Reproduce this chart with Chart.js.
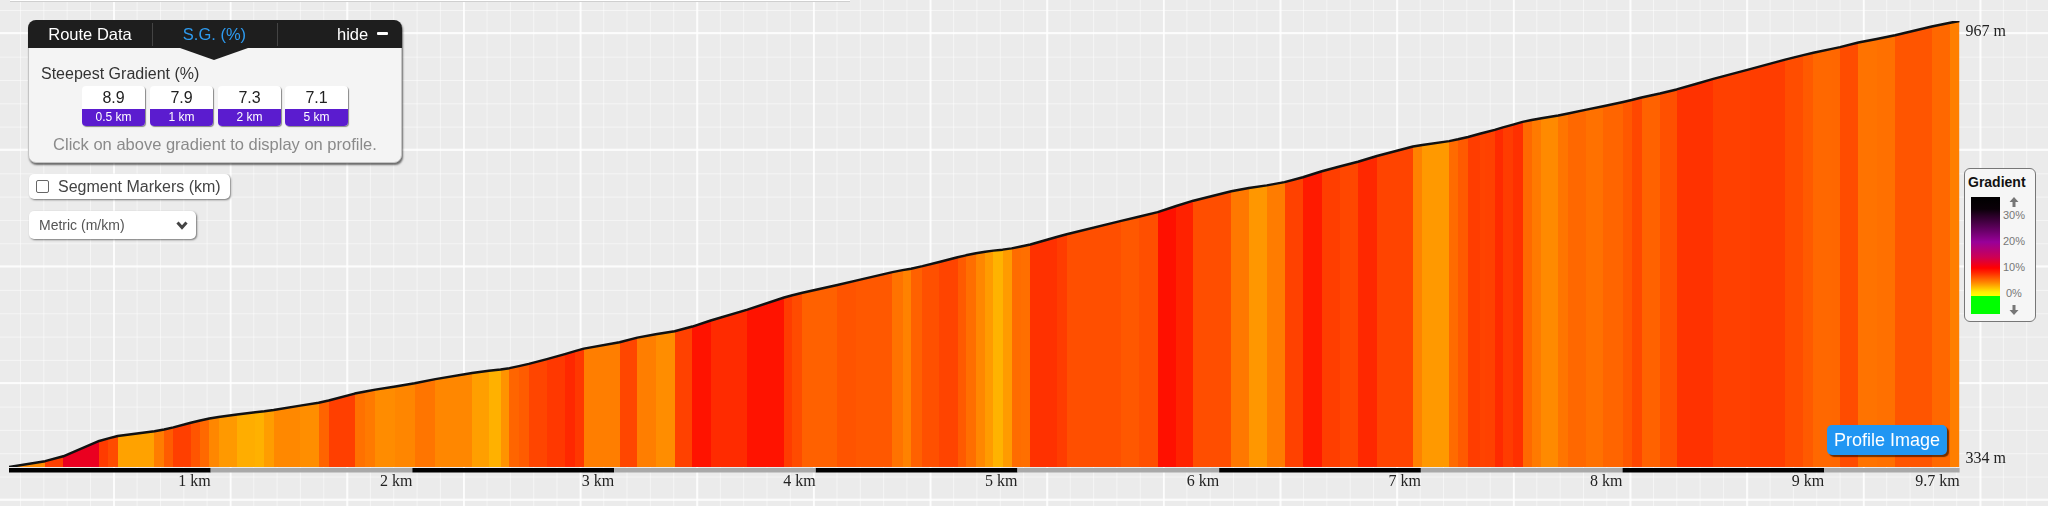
<!DOCTYPE html>
<html lang="en">
<head>
<meta charset="UTF-8">
<title>Climb profile</title>
<script src="https://cdn.jsdelivr.net/npm/chart.js"></script>
<style>
    body {
        margin: 0; width: 2048px; height: 506px; overflow: hidden; position: relative;
        font-family: "Liberation Sans", Arial, sans-serif;
        background-color: #ebebeb;
        background-image:
            linear-gradient(90deg, rgba(255,255,255,.8) 2px, transparent 2px),
            linear-gradient(180deg, rgba(255,255,255,.8) 2px, transparent 2px),
            linear-gradient(90deg, rgba(255,255,255,.5) 1px, transparent 1px),
            linear-gradient(180deg, rgba(255,255,255,.5) 1px, transparent 1px);
        background-size: 116.667px 116.667px, 116.667px 116.667px, 23.333px 23.333px, 23.333px 23.333px;
        background-position: 113px 0, 0 32px, 20px 0, 0 10px;
    }
    #profile { position: absolute; left: 0; top: 0; }
    .abs { position: absolute; }
    .panel { left: 28px; top: 20px; width: 372px; height: 141px; background: #f4f4f4; border: 1px solid #c4c4c4;
             border-radius: 8px; box-shadow: 1px 2px 2px rgba(0,0,0,.55); }
    .head { left: -1px; top: -1px; width: 374px; height: 28px; background: #1e1e1e; border-radius: 8px 8px 0 0; color: #fff; font-size: 16.5px; }
    .tab { position: absolute; top: 0; line-height: 29px; text-align: center; }
    .sep { position: absolute; top: 3px; width: 1px; height: 23px; background: #444; }
    .pointer { left: 151px; top: 27px; width: 0; height: 0; border-left: 34px solid transparent; border-right: 34px solid transparent; border-top: 12px solid #1e1e1e; }
    .btn { top: 65px; width: 63px; height: 40px; border-radius: 4px; background: #fff; box-shadow: 1px 1px 1px rgba(0,0,0,.45); overflow: hidden; text-align: center; }
    .btn .v { height: 23px; line-height: 24px; font-size: 16px; color: #222; }
    .btn .k { height: 17px; line-height: 17px; font-size: 12px; color: #fff; background: #5b1ccf; }
    .box { background: #fff; border-radius: 5px; box-shadow: 1px 1px 2px rgba(0,0,0,.5); }
</style>
</head>
<body>
    <div class="abs" style="left:10px; top:-3px; width:840px; height:4px; background:#fff; border-bottom:1px solid #cfcfcf;"></div>

    <canvas id="profile" width="2048" height="506"></canvas>

    <div class="abs panel">
        <div class="abs head">
            <div class="tab" style="left:0; width:124px;">Route Data</div>
            <div class="sep" style="left:124px;"></div>
            <div class="tab" style="left:124px; width:125px; color:#2e9bf0;">S.G. (%)</div>
            <div class="sep" style="left:249px;"></div>
            <div class="tab" style="left:309px;">hide</div>
            <div class="abs" style="left:349px; top:12px; width:11px; height:3px; background:#fff; border-radius:1px;"></div>
        </div>
        <div class="abs pointer"></div>
        <div class="abs" style="left:12px; top:44px; font-size:16px; color:#333;">Steepest Gradient (%)</div>
        <div class="abs btn" style="left:53px;"><div class="v">8.9</div><div class="k">0.5 km</div></div>
        <div class="abs btn" style="left:121px;"><div class="v">7.9</div><div class="k">1 km</div></div>
        <div class="abs btn" style="left:189px;"><div class="v">7.3</div><div class="k">2 km</div></div>
        <div class="abs btn" style="left:256px;"><div class="v">7.1</div><div class="k">5 km</div></div>
        <div class="abs" style="left:0; width:372px; top:114px; text-align:center; font-size:16.5px; color:#8a8a8a;">Click on above gradient to display on profile.</div>
    </div>

    <div class="abs box" style="left:29px; top:174px; width:201px; height:25px;">
        <div class="abs" style="left:7px; top:6px; width:11px; height:11px; border:1px solid #666; border-radius:2px; background:#fff;"></div>
        <div class="abs" style="left:29px; top:4px; font-size:16px; color:#444;">Segment Markers (km)</div>
    </div>

    <div class="abs box" style="left:29px; top:211px; width:167px; height:28px;">
        <div class="abs" style="left:10px; top:6px; font-size:14px; color:#555;">Metric (m/km)</div>
        <svg class="abs" style="left:147px; top:10px;" width="12" height="9"><polyline points="1.5,1.5 6,6.5 10.5,1.5" fill="none" stroke="#444" stroke-width="3"/></svg>
    </div>

    <div class="abs" style="left:1964px; top:168px; width:70px; height:152px; background:#f6f6f6; border:1px solid #777; border-radius:6px;">
        <div class="abs" style="left:3px; top:5px; font-size:14px; font-weight:bold; color:#111;">Gradient</div>
        <div class="abs" style="left:6px; top:28px; width:29px; height:117px;
             background: linear-gradient(180deg, #000 0px, #0a0008 12px, #2a0028 19px, #990099 45px, #cc0055 60px, #ff0000 71px, #ff2a00 76px, #ff8c00 86px, #ffee00 95px, #ffff00 99px, #00ff00 99px, #00ff00 117px);"></div>
        <svg class="abs" style="left:44px; top:28px;" width="10" height="10"><path d="M5 0 L9.5 5 L6.5 5 L6.5 10 L3.5 10 L3.5 5 L0.5 5 Z" fill="#777"/></svg>
        <div class="abs" style="left:38px; top:40px; font-size:11px; color:#777;">30%</div>
        <div class="abs" style="left:38px; top:66px; font-size:11px; color:#777;">20%</div>
        <div class="abs" style="left:38px; top:92px; font-size:11px; color:#777;">10%</div>
        <div class="abs" style="left:41px; top:118px; font-size:11px; color:#777;">0%</div>
        <svg class="abs" style="left:44px; top:136px;" width="10" height="10"><path d="M5 10 L9.5 5 L6.5 5 L6.5 0 L3.5 0 L3.5 5 L0.5 5 Z" fill="#777"/></svg>
    </div>

    <div class="abs" style="left:1827px; top:425px; width:120px; height:30px; background:#2196f3; border-radius:5px; box-shadow:2px 2px 1px rgba(0,0,0,.55); color:#fff; font-size:18px; line-height:30px; text-align:center;">Profile Image</div>

    <script>
        // distance along the climb (km) and elevation (m) at each gradient change
        var distKm = [0, 0.179, 0.269, 0.447, 0.493, 0.539, 0.721, 0.769, 0.815, 0.901,
            0.948, 0.993, 1.039, 1.130, 1.221, 1.266, 1.312, 1.444, 1.535, 1.585,
            1.714, 1.767, 1.816, 1.916, 2.011, 2.114, 2.296, 2.379, 2.437, 2.481,
            2.528, 2.577, 2.667, 2.756, 2.806, 2.850, 3.027, 3.115, 3.206, 3.300,
            3.388, 3.479, 3.661, 3.843, 3.884, 3.934, 4.107, 4.199, 4.380, 4.430,
            4.472, 4.529, 4.612, 4.703, 4.744, 4.794, 4.840, 4.880, 4.926, 4.971,
            5.017, 5.064, 5.194, 5.244, 5.514, 5.601, 5.695, 5.787, 5.872, 6.060,
            6.147, 6.236, 6.324, 6.415, 6.509, 6.597, 6.688, 6.782, 6.961, 7.007,
            7.140, 7.184, 7.234, 7.292, 7.316, 7.366, 7.407, 7.457, 7.504, 7.549,
            7.598, 7.681, 7.730, 7.821, 7.904, 8.003, 8.045, 8.094, 8.185, 8.268,
            8.367, 8.450, 8.632, 8.806, 8.896, 8.946, 9.037, 9.078, 9.169, 9.260,
            9.351, 9.533, 9.624, 9.671];

        var elevM = [334.0, 342.3, 349.2, 371.0, 374.6, 377.9, 384.7, 387.2, 390.2, 396.8,
            400.0, 402.7, 404.9, 408.6, 411.6, 413.0, 414.8, 421.1, 425.2, 428.3,
            438.2, 441.2, 443.8, 448.4, 453.0, 458.7, 467.4, 470.6, 472.4, 474.3,
            477.2, 480.4, 487.1, 494.2, 498.5, 502.0, 511.1, 517.6, 522.3, 526.6,
            533.3, 541.9, 557.3, 574.5, 577.7, 581.3, 592.2, 598.5, 610.6, 613.4,
            615.5, 619.1, 624.9, 631.7, 634.4, 637.3, 639.5, 641.1, 642.5, 644.3,
            647.0, 649.7, 660.4, 664.3, 683.3, 689.1, 695.7, 704.5, 712.0, 725.3,
            730.0, 733.7, 738.3, 745.2, 753.8, 760.6, 767.3, 775.4, 788.8, 791.1,
            796.5, 799.1, 802.4, 806.9, 808.7, 812.5, 816.0, 819.9, 823.8, 826.5,
            829.1, 833.0, 835.7, 841.2, 845.9, 852.0, 854.8, 858.4, 864.1, 869.9,
            878.0, 884.8, 898.7, 912.2, 918.6, 921.9, 927.4, 929.9, 936.4, 941.5,
            946.7, 959.1, 964.6, 967.0];

        var kmTickValues = [1, 2, 3, 4, 5, 6, 7, 8, 9, 9.671];
        var kmTickLabels = ['1 km', '2 km', '3 km', '4 km', '5 km', '6 km', '7 km', '8 km', '9 km', '9.7 km'];

        var totalKm = distKm[distKm.length - 1];
        var minElev = Math.min.apply(null, elevM);
        var maxElev = Math.max.apply(null, elevM);

        // colour ramp used by the site: yellow -> red -> purple -> black, green for descents
        var rampStops = [[0, [255, 255, 0]], [10.2, [255, 0, 0]], [20, [153, 0, 153]], [30, [26, 0, 20]]];

        function gradeColor(g) {
            if (g < 0) return 'rgb(0,255,0)';
            for (var i = 1; i < rampStops.length; i++) {
                var a = rampStops[i - 1], b = rampStops[i];
                if (g <= b[0] || i === rampStops.length - 1) {
                    var t = Math.min(1, (g - a[0]) / (b[0] - a[0]));
                    var c = a[1].map(function (v, k) { return Math.round(v + (b[1][k] - v) * t); });
                    return 'rgb(' + c.join(',') + ')';
                }
            }
        }

        // vertical stripes: one colour per section, from its slope
        function stripeFill(context) {
            var chart = context.chart;
            if (!chart.chartArea || !chart.scales.x) return '#ff6000';
            var xs = chart.scales.x;
            var x0 = xs.getPixelForValue(distKm[0]);
            var x1 = xs.getPixelForValue(totalKm);
            var grad = chart.ctx.createLinearGradient(x0, 0, x1, 0);
            for (var i = 0; i < distKm.length - 1; i++) {
                var pct = (elevM[i + 1] - elevM[i]) / ((distKm[i + 1] - distKm[i]) * 10);
                var col = gradeColor(pct);
                var a = Math.min(1, Math.max(0, (xs.getPixelForValue(distKm[i]) - x0) / (x1 - x0)));
                var b = Math.min(1, Math.max(0, (xs.getPixelForValue(distKm[i + 1]) - x0) / (x1 - x0)));
                grad.addColorStop(a, col);
                grad.addColorStop(b, col);
            }
            return grad;
        }

        var profileExtras = {
            id: 'profileExtras',
            afterDraw: function (chart) {
                var ctx = chart.ctx, area = chart.chartArea;
                var xs = chart.scales.x, ys = chart.scales.y;
                ctx.save();
                // alternating km bar under the profile
                for (var k = 0; k < totalKm; k++) {
                    var a = xs.getPixelForValue(k);
                    var b = xs.getPixelForValue(Math.min(k + 1, totalKm));
                    ctx.fillStyle = k % 2 ? '#a9a9a9' : '#000';
                    ctx.fillRect(a, area.bottom + 1, b - a, 4.5);
                }
                ctx.font = '16px "Liberation Serif", "Times New Roman", serif';
                ctx.fillStyle = '#222';
                ctx.textAlign = 'left';
                ctx.textBaseline = 'middle';
                ctx.fillText(Math.round(ys.max) + ' m', area.right + 6, ys.getPixelForValue(ys.max) + 11);
                ctx.fillText(Math.round(ys.min) + ' m', area.right + 6, ys.getPixelForValue(ys.min) - 8);
                ctx.restore();
            }
        };

        var points = distKm.map(function (d, i) { return { x: d, y: elevM[i] }; });

        new Chart(document.getElementById('profile').getContext('2d'), {
            type: 'line',
            data: {
                datasets: [{
                    data: points,
                    borderColor: '#111',
                    borderWidth: 2.5,
                    borderJoinStyle: 'round',
                    pointRadius: 0,
                    tension: 0,
                    fill: 'start',
                    backgroundColor: stripeFill
                }]
            },
            options: {
                responsive: false,
                animation: false,
                events: [],
                layout: { padding: { left: 9, right: 88.4, top: 21, bottom: 9.8 } },
                plugins: { legend: { display: false }, tooltip: { enabled: false } },
                scales: {
                    x: {
                        type: 'linear',
                        min: 0,
                        max: totalKm,
                        grid: { display: false, drawTicks: false },
                        border: { display: false },
                        afterBuildTicks: function (scale) {
                            scale.ticks = kmTickValues.map(function (v) { return { value: v }; });
                        },
                        ticks: {
                            autoSkip: false,
                            maxRotation: 0,
                            align: 'end',
                            padding: 5,
                            color: '#222',
                            font: { family: '"Liberation Serif", "Times New Roman", serif', size: 16 },
                            callback: function (v, i) { return kmTickLabels[i]; }
                        }
                    },
                    y: { display: false, min: minElev, max: maxElev }
                }
            },
            plugins: [profileExtras]
        });
    </script>
</body>
</html>
